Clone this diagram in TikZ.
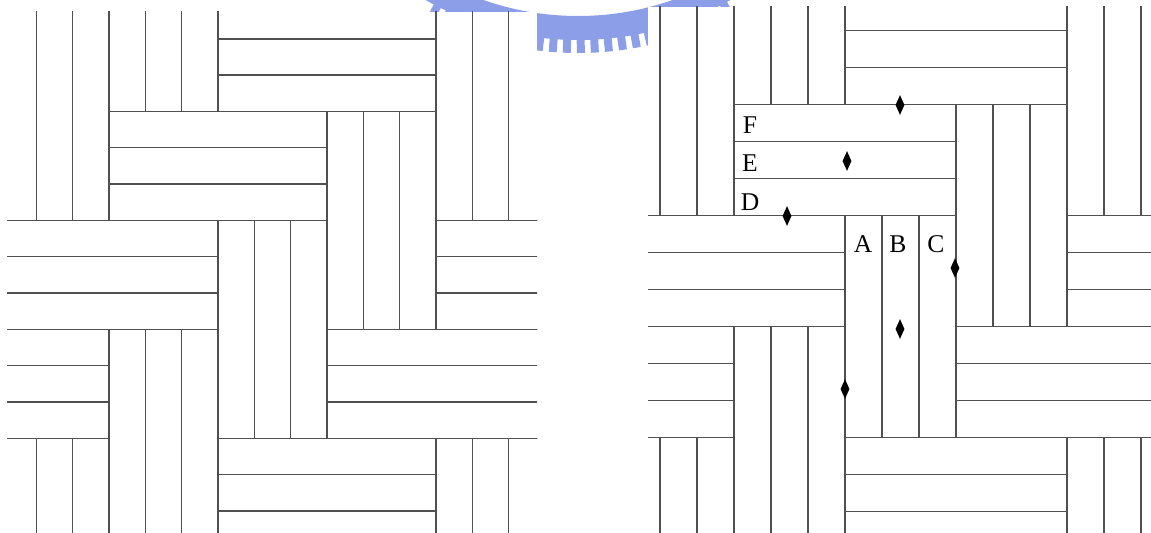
\documentclass[tikz,border=0pt]{standalone}
\usepackage{fontspec}
\setmainfont{Liberation Serif}
\usetikzlibrary{shapes.geometric}
\definecolor{lineC}{RGB}{80,80,80}
\definecolor{logoC}{RGB}{140,158,232}

% one 5x5 block of the parquet, in board widths (a group = 3 boards)
\newcommand{\parquet}{%
  \foreach \gx/\gy in {0/0,3/-3,12/0,9/3,6/6,3/9,0/12,12/12}
    \draw[board, shift={(\gx,\gy)}] (0,0) rectangle (3,6) (1,0) -- (1,6) (2,0) -- (2,6);
  \foreach \gx/\gy in {6/0,3/3,0/6,12/6,9/9,-3/9,6/12}
    \draw[board, shift={(\gx,\gy)}] (0,0) rectangle (6,3) (0,1) -- (6,1) (0,2) -- (6,2);
}

\begin{document}
\begin{tikzpicture}[
  board/.style={draw=lineC, line width=0.85pt},
  pin/.style={diamond, fill=black, inner sep=0pt, minimum width=0.2cm, minimum height=0.44cm},
  tag/.style={font=\fontsize{16}{19}\selectfont, inner sep=0pt},
  x=0.022cm, y=-0.022cm  % image pixels, y pointing down
]
\useasboundingbox (0,0) rectangle (1151,533);

% ---------- watermark behind both panels ----------
\begin{scope}
  \clip (0,0) rectangle (1151,533);
  \fill[logoC, even odd rule] (578,-270) circle (310) (578,-270) circle (286);
  \foreach \a in {62,64.5,...,118}
    \draw[logoC, line width=5pt] (578,-270) ++(\a:309) -- ++(\a:14);
\end{scope}

% ============ left panel: plain pattern ============
\begin{scope}
  \clip (7,12) rectangle (537,533);
  \fill[white] (7,12) rectangle (537,533);
  \begin{scope}[shift={(0,2.5)}, x=0.7993cm, y=-0.7993cm]
    \parquet
  \end{scope}
\end{scope}

% ============ right panel: same pattern, boards lettered ============
\begin{scope}
  \clip (648,7) rectangle (1151,533);
  \fill[white] (648,7) rectangle (1151,533);
  \begin{scope}[shift={(623,-6.5)}, x=0.814cm, y=-0.814cm]
    \parquet
  \end{scope}
\end{scope}

\node[tag] (lblF) at (750,125) {F};
\node[tag] (lblE) at (750,163) {E};
\node[tag] (lblD) at (750,202) {D};
\node[tag] (lblA) at (863,244) {A};
\node[tag] (lblB) at (898,244) {B};
\node[tag] (lblC) at (936,244) {C};

% markers on the joints
\node[pin] (pinF) at (900,105) {};
\node[pin] (pinE) at (847,161) {};
\node[pin] (pinD) at (787,216) {};
\node[pin] (pinC) at (955,268) {};
\node[pin] (pinB) at (900,329) {};
\node[pin] (pinA) at (845,389) {};

\end{tikzpicture}
\end{document}
